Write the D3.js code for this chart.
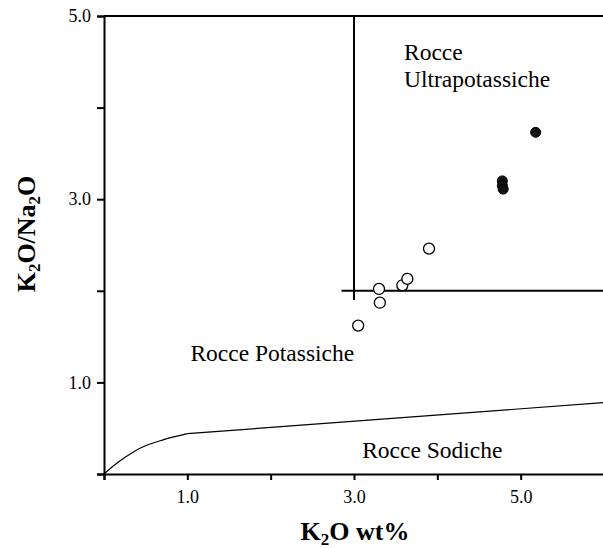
<!DOCTYPE html>
<html><head><meta charset="utf-8">
<script src="https://cdn.jsdelivr.net/npm/d3@7"></script>
<style>
body{margin:0;background:#fff;}
svg{display:block;}
svg text{font-family:"Liberation Serif","Tinos","Times New Roman",Times,"DejaVu Serif",serif !important;fill:#000;}
</style></head>
<body>
<svg id="chart" width="603" height="548"></svg>
<script>
// ---- data ----
const xTicks = [0, 1, 2, 3, 4, 5, 6];
const yTicks = [0, 1, 2, 3, 4, 5];
const xTickLabels = ["", "1.0", "", "3.0", "", "5.0", ""];
const yTickLabels = ["", "1.0", "", "3.0", "", "5.0"];
// open circles
const openK2O   = [3.05, 3.31, 3.30, 3.58, 3.64, 3.90];
const openRatio = [1.62, 1.87, 2.02, 2.06, 2.13, 2.46];
// filled circles
const fillK2O   = [4.78, 4.78, 4.79, 5.18];
const fillRatio = [3.20, 3.15, 3.11, 3.73];
// potassic / sodic boundary: curved part and straight part
const curveK2O   = [0, 0.1, 0.25, 0.45, 0.7, 1.0];
const curveRatio = [0, 0.08, 0.18, 0.29, 0.37, 0.44];
const straightK2O   = [1.0, 6.0];
const straightRatio = [0.44, 0.78];
// ultrapotassic field lines
const ultraVert  = {x: [3, 3], y: [5, 1.9]};
const ultraHoriz = {x: [2.85, 6], y: [2, 2]};
const fieldLabels = [
  {lines: ["Rocce", "Ultrapotassiche"], x: 3.6, y: 4.52, anchor: "start"},
  {lines: ["Rocce Potassiche"], x: 2.02, y: 1.23, anchor: "middle"},
  {lines: ["Rocce Sodiche"], x: 3.94, y: 0.18, anchor: "middle"}
];

const FONT = '"Liberation Serif","Tinos","Times New Roman",Times,"DejaVu Serif",serif';

// ---- layout ----
const svg = d3.select("#chart");
const x = d3.scaleLinear().domain([0, 6]).range([104, 604]);
const y = d3.scaleLinear().domain([0, 5]).range([474, 16]);

// axes
const xAxis = d3.axisBottom(x).tickValues(xTicks).tickSize(6).tickPadding(10)
  .tickFormat((d, i) => xTickLabels[i]);
const yAxis = d3.axisLeft(y).tickValues(yTicks).tickSize(7).tickPadding(6)
  .tickFormat((d, i) => yTickLabels[i]);

const gx = svg.append("g").attr("transform", `translate(0,${y(0)})`).call(xAxis);
const gy = svg.append("g").attr("transform", `translate(${x(0)},0)`).call(yAxis);
[gx, gy].forEach(g => {
  g.attr("font-family", FONT);
  g.select(".domain").attr("stroke", "#000").attr("stroke-width", 2);
  g.selectAll(".tick line").attr("stroke", "#000").attr("stroke-width", 2);
  g.selectAll(".tick text").attr("font-size", 18).attr("font-family", FONT).attr("fill", "#000");
});

// top border
svg.append("line").attr("x1", x(0)).attr("x2", x(6)).attr("y1", y(5)).attr("y2", y(5))
  .attr("stroke", "#000").attr("stroke-width", 2);

// ultrapotassic field
svg.append("line").attr("x1", x(ultraVert.x[0])).attr("x2", x(ultraVert.x[1]))
  .attr("y1", y(ultraVert.y[0])).attr("y2", y(ultraVert.y[1]))
  .attr("stroke", "#000").attr("stroke-width", 2);
svg.append("line").attr("x1", x(ultraHoriz.x[0])).attr("x2", x(ultraHoriz.x[1]))
  .attr("y1", y(ultraHoriz.y[0])).attr("y2", y(ultraHoriz.y[1]))
  .attr("stroke", "#000").attr("stroke-width", 2);

// boundary curve
const curveLine = d3.line().x(d => x(d[0])).y(d => y(d[1])).curve(d3.curveCatmullRom);
svg.append("path").datum(curveK2O.map((v, i) => [v, curveRatio[i]]))
  .attr("d", curveLine).attr("fill", "none").attr("stroke", "#000").attr("stroke-width", 1.2);
const straight = d3.line().x(d => x(d[0])).y(d => y(d[1]));
svg.append("path").datum(straightK2O.map((v, i) => [v, straightRatio[i]]))
  .attr("d", straight).attr("fill", "none").attr("stroke", "#000").attr("stroke-width", 1.2);

// points
svg.append("g").selectAll("circle").data(openK2O.map((v, i) => [v, openRatio[i]]))
  .join("circle").attr("cx", d => x(d[0])).attr("cy", d => y(d[1])).attr("r", 5.5)
  .attr("fill", "#fff").attr("stroke", "#000").attr("stroke-width", 1.3);
svg.append("g").selectAll("circle").data(fillK2O.map((v, i) => [v, fillRatio[i]]))
  .join("circle").attr("cx", d => x(d[0])).attr("cy", d => y(d[1])).attr("r", 5)
  .attr("fill", "#111").attr("stroke", "#000").attr("stroke-width", 1);

// field labels
fieldLabels.forEach(l => {
  const t = svg.append("text").attr("x", x(l.x)).attr("y", y(l.y))
    .attr("font-family", FONT).attr("font-size", 23.5).attr("text-anchor", l.anchor);
  l.lines.forEach((s, i) => t.append("tspan").attr("x", x(l.x)).attr("dy", i ? 27 : 0).text(s));
});

// axis titles
const xt = svg.append("text").attr("x", (x(0) + x(6)) / 2 + 1).attr("y", 540)
  .attr("font-family", FONT).attr("text-anchor", "middle").attr("font-size", 26).attr("font-weight", "bold");
xt.append("tspan").text("K");
xt.append("tspan").attr("font-size", 17).attr("dy", 5).text("2");
xt.append("tspan").attr("dy", -5).text("O wt%");

const yt = svg.append("text").attr("transform", `translate(35,234) rotate(-90)`)
  .attr("font-family", FONT).attr("text-anchor", "middle").attr("font-size", 26).attr("font-weight", "bold");
yt.append("tspan").text("K");
yt.append("tspan").attr("font-size", 17).attr("dy", 5).text("2");
yt.append("tspan").attr("dy", -5).text("O/Na");
yt.append("tspan").attr("font-size", 17).attr("dy", 5).text("2");
yt.append("tspan").attr("dy", -5).text("O");
</script>
</body></html>
